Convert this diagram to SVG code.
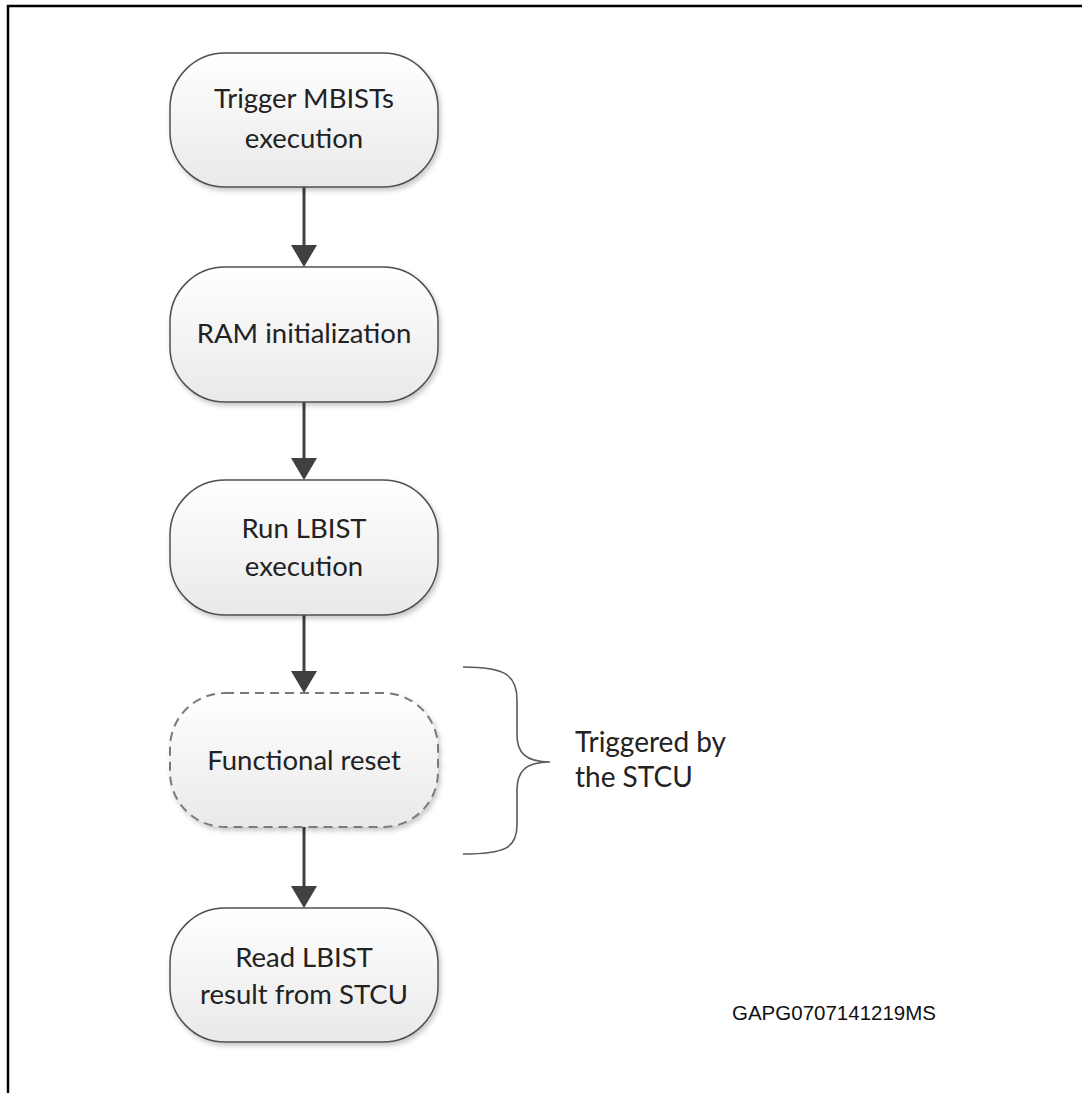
<svg xmlns="http://www.w3.org/2000/svg" width="1082" height="1093" viewBox="0 0 1082 1093">
  <style>
    .frame { stroke: #000; stroke-width: 2.5; fill: none; }
    .node { fill: url(#nodeFill); stroke: #505050; stroke-width: 1.5; filter: url(#shadow); }
    .node.dashed { stroke: #7a7a7a; stroke-width: 2; stroke-dasharray: 9 6; }
    .label { font-family: Lato, "Open Sans", sans-serif; font-size: 27.5px; fill: #222; text-anchor: middle; }
    .note { font-family: Lato, "Open Sans", sans-serif; font-size: 28px; fill: #222; }
    .edge { stroke: #404040; stroke-width: 3; fill: none; }
    .head { fill: #404040; }
    .brace { stroke: #5a5a5a; stroke-width: 1.6; fill: none; }
    .code { font-family: "Liberation Sans", Arial, sans-serif; font-size: 20.5px; fill: #111; }
  </style>
  <defs>
    <linearGradient id="nodeFill" x1="0" y1="0" x2="0" y2="1">
      <stop offset="0" stop-color="#ffffff"/>
      <stop offset="1" stop-color="#e9e9e9"/>
    </linearGradient>
    <filter id="shadow" x="-10%" y="-10%" width="125%" height="130%">
      <feDropShadow dx="2" dy="3" stdDeviation="2.5" flood-color="#000" flood-opacity="0.22"/>
    </filter>
  </defs>

  <!-- page frame -->
  <path class="frame" d="M8,1093 V6 H1082"/>

  <!-- connectors: shaft plus filled head -->
  <g id="connectors">
    <path class="edge" d="M304,187 V250"/>
    <path class="head" d="M291,245 L317,245 L304,267 z"/>
    <path class="edge" d="M304,402 V463"/>
    <path class="head" d="M291,458 L317,458 L304,480 z"/>
    <path class="edge" d="M304,615 V676"/>
    <path class="head" d="M291,671 L317,671 L304,693 z"/>
    <path class="edge" d="M304,827 V891"/>
    <path class="head" d="M291,886 L317,886 L304,908 z"/>
  </g>

  <g id="n1">
    <rect class="node" x="170" y="53" width="268" height="134" rx="55" ry="55"/>
    <text class="label" x="304" y="108">Trigger MBISTs</text>
    <text class="label" x="304" y="148">execution</text>
  </g>

  <g id="n2">
    <rect class="node" x="170" y="267" width="268" height="135" rx="55" ry="55"/>
    <text class="label" x="304" y="343">RAM initialization</text>
  </g>

  <g id="n3">
    <rect class="node" x="170" y="480" width="268" height="135" rx="55" ry="55"/>
    <text class="label" x="304" y="538">Run LBIST</text>
    <text class="label" x="304" y="576">execution</text>
  </g>

  <g id="n4">
    <rect class="node dashed" x="170" y="693" width="268" height="134" rx="55" ry="55"/>
    <text class="label" x="304" y="770">Functional reset</text>
  </g>

  <g id="n5">
    <rect class="node" x="170" y="908" width="268" height="134" rx="55" ry="55"/>
    <text class="label" x="304" y="967">Read LBIST</text>
    <text class="label" x="304" y="1004">result from STCU</text>
  </g>

  <!-- brace spanning the reset step -->
  <g id="brace">
    <path class="brace" d="M463,667 C505,667 517,675 517,700 V735 C517,752 525,762 550,762 C525,762 517,772 517,790 V825 C517,848 505,854 463,854"/>
    <text class="note" x="575" y="752">Triggered by</text>
    <text class="note" x="575" y="787">the STCU</text>
  </g>

  <text class="code" x="732" y="1020">GAPG0707141219MS</text>
</svg>
